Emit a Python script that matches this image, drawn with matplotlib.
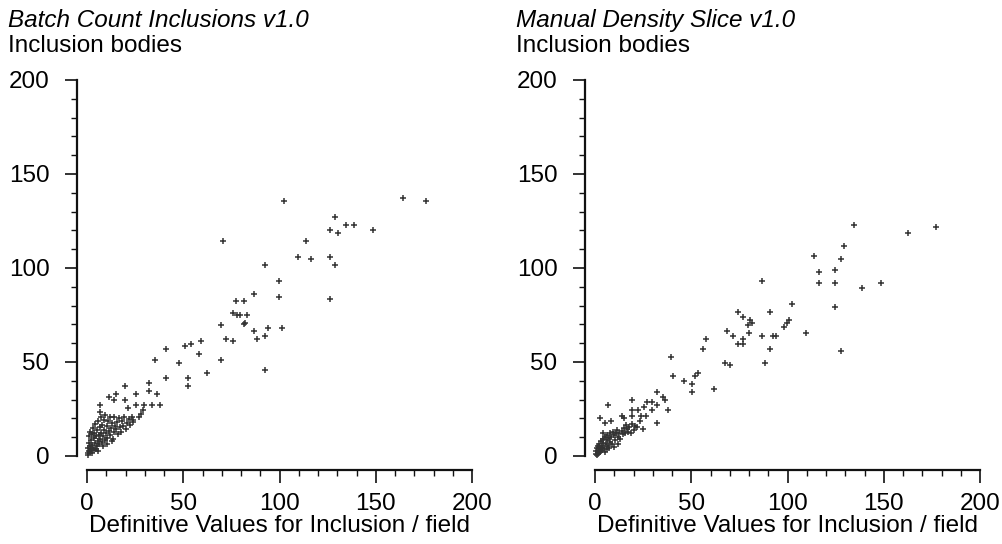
import matplotlib
matplotlib.use("Agg")
import matplotlib.pyplot as plt
from matplotlib.ticker import MultipleLocator

plt.rcParams['font.family'] = ['Liberation Sans', 'DejaVu Sans']

# Batch Count Inclusions v1.0 (definitive, measured)
batch_x = [102.5, 164, 176.3, 70.6, 129, 126.4, 130.4, 134.4, 138.5, 148.6, 113.6, 109.4,
           116.5, 126.4, 129, 92.6, 99.7, 86.9, 99.7, 126.4, 77.6, 81.5, 76, 77.8, 79.5, 83,
           82.1, 81.6, 69.4, 86.9, 93.9, 101.1, 92.6, 88.5, 72, 76, 59.4, 53.9, 50.9, 58.2,
           69.4, 47.9, 62.2, 92.6, 52.3, 52.3, 41, 35.3, 41, 32.4, 19.5, 32.4, 36.6, 15.2,
           11.2, 25.4, 13.8, 19.5, 6.8, 34, 38, 29.6, 25.4, 6.8, 21.5, 28.9, 27.9, 26.9, 23.9,
           0.3, 0.5, 0.8, 1.0, 1.2, 1.5, 1.8, 2.0, 2.2, 2.5, 2.8, 3.0, 3.2, 3.5, 3.8, 4.0, 4.3,
           4.6, 5.0, 5.2, 5.5, 5.8, 6.0, 6.3, 6.6, 7.0, 7.2, 7.5, 7.8, 8.0, 8.4, 8.8, 9.0, 9.3,
           9.6, 10.0, 10.3, 10.6, 11.0, 11.4, 11.8, 12.0, 12.5, 13.0, 13.4, 13.8, 14.2, 14.6,
           15.0, 15.5, 16.0, 16.5, 17.0, 17.5, 18.0, 18.6, 19.2, 20.0, 20.8, 21.6, 22.5, 23.2,
           24.0, 0.5, 1.5, 2.5, 3.5, 4.5, 5.5, 8.5, 10.5, 12.8]
batch_y = [135.8, 137, 135.8, 114.5, 127, 120, 118.5, 123, 123, 120, 114.5, 106,
           104.6, 106, 101.7, 101.7, 93.3, 86.2, 84.8, 83.4, 82.4, 82.4, 76.3, 75.1, 75.1, 75.1,
           71, 70.2, 69.5, 66.7, 68.1, 68.1, 64, 62.4, 62.4, 61, 61, 59.6, 58.4, 54,
           51.2, 49.7, 44.1, 45.5, 41.4, 37, 56.8, 51.1, 41.3, 38.6, 37.1, 34.4, 32.8, 32.8,
           31.6, 32.8, 30, 30, 27.2, 27.2, 27.2, 27.2, 27.2, 23.2, 25.7, 24.3, 22.4, 20.8, 19.2,
           1.5, 4.0, 7.0, 2.5, 10.5, 5.5, 13.0, 3.5, 8.5, 11.5, 6.0, 15.0, 4.5, 9.5, 12.5, 17.0,
           7.0, 10.5, 5.5, 14.0, 8.0, 18.5, 11.0, 6.5, 15.5, 9.0, 20.5, 12.5, 7.5, 16.5, 10.5,
           14.0, 19.0, 8.5, 22.0, 12.0, 16.0, 9.5, 18.5, 13.5, 20.5, 11.0, 15.0, 17.5, 9.0,
           13.0, 21.0, 16.0, 14.5, 18.0, 11.5, 20.0, 15.5, 13.0, 18.5, 16.0, 21.0, 14.5, 17.5,
           19.5, 16.5, 20.5, 18.0, 0.5, 2.0, 1.5, 3.0, 3.5, 2.5, 5.5, 6.5, 8.0]

# Manual Density Slice v1.0
manual_x = [134.7, 162.8, 177, 129.2, 113.6, 127.6, 116.4, 124.8, 86.9, 116.4, 124.8, 138.9,
            148.6, 124.8, 127.6, 109.4, 102.2, 100.9, 99.6, 98.2, 91, 74.3, 77, 80.5, 81.4,
            79.6, 68.7, 71.5, 77, 80, 86.9, 92.4, 93.8, 74.3, 77, 91, 88.5, 67.4, 70.1, 57.5,
            56.1, 39.3, 40.7, 46.2, 50.6, 52, 53.3, 50.6, 61.7, 32.4, 35.2, 36.5, 37.9, 32.4,
            32.4, 26.9, 29.6, 29.6, 25.5, 19.4, 19.4, 22.2, 19.4, 23.7, 26.5, 23.5, 25.1, 6.9,
            2.6, 5.4, 8.1, 13.8, 15.2, 16.6,
            0.3, 0.6, 1.0, 1.3, 1.6, 2.0, 2.3, 2.6, 3.0, 3.3, 3.6, 4.0, 4.4, 4.8, 5.2, 5.6, 6.0,
            6.4, 6.8, 7.2, 7.6, 8.0, 8.5, 9.0, 9.5, 10.0, 10.5, 11.0, 11.5, 12.0, 12.6, 13.2,
            13.8, 14.4, 15.0, 15.6, 16.3, 17.0, 17.8, 18.5, 19.2, 20.0, 21.0, 22.0, 0.8, 1.8,
            2.8, 3.8, 5.0, 6.2, 7.4, 9.8, 11.8, 4.2]
manual_y = [122.9, 118.7, 121.7, 111.8, 106.2, 104.8, 97.7, 98.9, 93.3, 92, 92, 89.2,
            92, 79.4, 55.6, 65.4, 80.8, 72.3, 70.5, 68.4, 76.5, 76.5, 73.7, 72.3, 71,
            69.7, 66.7, 63.8, 62.4, 65.2, 63.8, 63.8, 63.8, 59.6, 59.6, 56.8, 49.7, 49.7, 48.3, 62.4,
            56.8, 52.5, 42.7, 39.8, 38.4, 42.7, 44.1, 34.2, 35.8, 34.2, 31.4, 30, 24.3, 27.1,
            17.3, 28.6, 28.6, 24.3, 25.8, 30, 24.3, 24.3, 21.5, 21.5, 21.5, 18.7, 14.4, 27.1,
            20, 17.3, 18.7, 21.5, 20, 14.4,
            1.0, 2.5, 4.0, 1.5, 5.5, 3.0, 6.5, 4.5, 8.0, 2.5, 5.5, 9.0, 7.0, 4.5, 10.0, 6.5, 8.5,
            11.0, 5.5, 9.5, 7.5, 12.0, 10.0, 6.5, 13.0, 11.0, 8.5, 12.5, 14.0, 10.0, 12.0, 9.0,
            13.5, 11.5, 15.0, 12.5, 16.5, 13.0, 15.5, 12.0, 17.0, 14.0, 16.0, 15.5, 0.5, 1.0,
            2.0, 3.0, 2.0, 3.5, 4.0, 5.0, 6.5, 12.0]

titles = ["Batch Count Inclusions v1.0", "Manual Density Slice v1.0"]
y_title = "Inclusion bodies"
x_title = "Definitive Values for Inclusion / field"

FS = 17.5
W, H = 1002, 544
fig = plt.figure(figsize=(W / 100, H / 100), dpi=100)

panels = [(87, 8, batch_x, batch_y), (595, 516, manual_x, manual_y)]
for (ax_left, text_left, xs, ys), title in zip(panels, titles):
    ax = fig.add_axes([ax_left / W, (H - 456) / H, 385 / W, 376 / H])
    ax.plot(xs, ys, linestyle='none', marker='+', markersize=4.8, markeredgewidth=1.1,
            color='#333333', clip_on=False)
    ax.set_xlim(0, 200)
    ax.set_ylim(0, 200)
    for s in ['top', 'right']:
        ax.spines[s].set_visible(False)
    ax.spines['left'].set_position(('outward', 7))
    ax.spines['bottom'].set_position(('outward', 10))
    for s in ['left', 'bottom']:
        ax.spines[s].set_linewidth(1.6)
        ax.spines[s].set_color('#111111')
    ax.xaxis.set_major_locator(MultipleLocator(50))
    ax.xaxis.set_minor_locator(MultipleLocator(10))
    ax.yaxis.set_major_locator(MultipleLocator(50))
    ax.yaxis.set_minor_locator(MultipleLocator(10))
    ax.tick_params(which='major', length=9, width=1.2, color='#111111', labelsize=FS)
    ax.tick_params(which='minor', length=4, width=1.0, color='#111111')
    ax.tick_params(axis='y', which='major', pad=11)
    ax.tick_params(axis='x', which='major', pad=8)
    ax.set_xlabel(x_title, fontsize=FS, labelpad=0)
    fig.text(text_left / W, 1 - 27 / H, title, fontsize=FS, style='italic',
             ha='left', va='baseline')
    fig.text(text_left / W, 1 - 52 / H, y_title, fontsize=FS, ha='left', va='baseline')

fig.savefig("out.png", dpi=100)
